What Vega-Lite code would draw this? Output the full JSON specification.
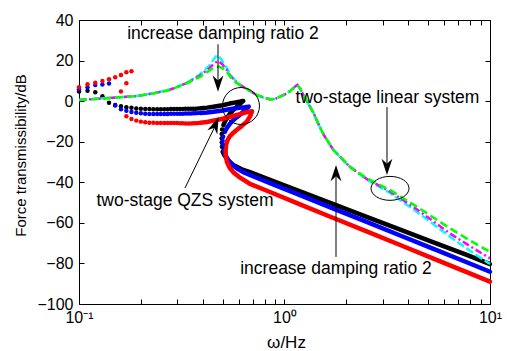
{
  "$schema": "https://vega.github.io/schema/vega-lite/v6.json",
  "width": 411,
  "height": 284,
  "autosize": {"type": "none"},
  "padding": {"left": 79, "top": 20, "right": 17, "bottom": 47},
  "background": "#ffffff",
  "config": {
    "view": {"stroke": "#000000", "strokeWidth": 1},
    "font": "Liberation Sans",
    "axis": {"labelColor": "#000000", "tickColor": "#000000", "titleColor": "#000000", "titleFontWeight": "normal", "labelFont": "Liberation Sans", "titleFont": "Liberation Sans", "grid": false, "domain": false}
  },
  "datasets": {
    "qzsDot": [
      {"f": 0.10, "db": 4.7, "s": "k"}, {"f": 0.11, "db": 5.1, "s": "k"}, {"f": 0.12, "db": 4.4, "s": "k"}, {"f": 0.13, "db": 2.4, "s": "k"}, {"f": 0.14, "db": -0.8, "s": "k"}, {"f": 0.15, "db": -1.9, "s": "k"}, {"f": 0.16, "db": -2.5, "s": "k"}, {"f": 0.17, "db": -3.0, "s": "k"}, {"f": 0.18, "db": -3.3, "s": "k"}, {"f": 0.19, "db": -3.6, "s": "k"}, {"f": 0.20, "db": -3.8, "s": "k"}, {"f": 0.21, "db": -3.9, "s": "k"}, {"f": 0.22, "db": -3.9, "s": "k"}, {"f": 0.23, "db": -4.0, "s": "k"}, {"f": 0.24, "db": -4.0, "s": "k"}, {"f": 0.25, "db": -4.0, "s": "k"}, {"f": 0.26, "db": -4.0, "s": "k"}, {"f": 0.27, "db": -4.0, "s": "k"}, {"f": 0.28, "db": -3.9, "s": "k"}, {"f": 0.29, "db": -3.9, "s": "k"},
      {"f": 0.30, "db": -3.9, "s": "k"}, {"f": 0.31, "db": -3.9, "s": "k"}, {"f": 0.32, "db": -3.9, "s": "k"}, {"f": 0.33, "db": -3.8, "s": "k"}, {"f": 0.34, "db": -3.8, "s": "k"}, {"f": 0.35, "db": -3.8, "s": "k"}, {"f": 0.36, "db": -3.7, "s": "k"}, {"f": 0.37, "db": -3.7, "s": "k"}, {"f": 0.38, "db": -3.6, "s": "k"},
      {"f": 0.497, "db": -14.0, "s": "k"}, {"f": 0.495, "db": -16.2, "s": "k"}, {"f": 0.495, "db": -18.3, "s": "k"}, {"f": 0.495, "db": -20.4, "s": "k"}, {"f": 0.496, "db": -22.5, "s": "k"},
      {"f": 0.10, "db": 5.9, "s": "b"}, {"f": 0.11, "db": 6.8, "s": "b"}, {"f": 0.12, "db": 7.9, "s": "b"}, {"f": 0.13, "db": 8.2, "s": "b"}, {"f": 0.14, "db": 8.7, "s": "b"}, {"f": 0.15, "db": -2.2, "s": "b"}, {"f": 0.16, "db": -4.0, "s": "b"}, {"f": 0.17, "db": -4.7, "s": "b"}, {"f": 0.18, "db": -5.3, "s": "b"}, {"f": 0.19, "db": -5.7, "s": "b"}, {"f": 0.20, "db": -6.0, "s": "b"}, {"f": 0.21, "db": -6.2, "s": "b"}, {"f": 0.22, "db": -6.3, "s": "b"}, {"f": 0.23, "db": -6.3, "s": "b"}, {"f": 0.24, "db": -6.3, "s": "b"}, {"f": 0.25, "db": -6.3, "s": "b"}, {"f": 0.26, "db": -6.3, "s": "b"}, {"f": 0.27, "db": -6.3, "s": "b"}, {"f": 0.28, "db": -6.2, "s": "b"}, {"f": 0.29, "db": -6.2, "s": "b"},
      {"f": 0.30, "db": -6.2, "s": "b"}, {"f": 0.31, "db": -6.2, "s": "b"}, {"f": 0.32, "db": -6.2, "s": "b"}, {"f": 0.33, "db": -6.1, "s": "b"}, {"f": 0.34, "db": -6.1, "s": "b"}, {"f": 0.35, "db": -6.1, "s": "b"}, {"f": 0.36, "db": -6.0, "s": "b"}, {"f": 0.37, "db": -6.0, "s": "b"}, {"f": 0.38, "db": -5.9, "s": "b"},
      {"f": 0.503, "db": -17.5, "s": "b"}, {"f": 0.500, "db": -19.5, "s": "b"}, {"f": 0.501, "db": -21.5, "s": "b"},
      {"f": 0.10, "db": 6.8, "s": "r"}, {"f": 0.11, "db": 8.3, "s": "r"}, {"f": 0.12, "db": 9.1, "s": "r"}, {"f": 0.13, "db": 9.9, "s": "r"}, {"f": 0.14, "db": 10.8, "s": "r"}, {"f": 0.15, "db": 11.8, "s": "r"}, {"f": 0.16, "db": 12.9, "s": "r"}, {"f": 0.17, "db": 14.2, "s": "r"}, {"f": 0.18, "db": 14.7, "s": "r"},
      {"f": 0.16, "db": 4.7, "s": "r"}, {"f": 0.17, "db": 8.8, "s": "r"},
      {"f": 0.17, "db": -7.5, "s": "r"}, {"f": 0.18, "db": -8.8, "s": "r"}, {"f": 0.19, "db": -9.6, "s": "r"}, {"f": 0.20, "db": -10.1, "s": "r"}, {"f": 0.21, "db": -10.4, "s": "r"}, {"f": 0.22, "db": -10.6, "s": "r"}, {"f": 0.23, "db": -10.7, "s": "r"}, {"f": 0.24, "db": -10.8, "s": "r"}, {"f": 0.25, "db": -10.8, "s": "r"}, {"f": 0.26, "db": -10.8, "s": "r"}, {"f": 0.27, "db": -10.8, "s": "r"}, {"f": 0.28, "db": -10.8, "s": "r"}, {"f": 0.29, "db": -10.8, "s": "r"},
      {"f": 0.30, "db": -10.8, "s": "r"}, {"f": 0.31, "db": -10.9, "s": "r"}, {"f": 0.32, "db": -10.9, "s": "r"}, {"f": 0.33, "db": -11.0, "s": "r"}, {"f": 0.34, "db": -11.0, "s": "r"}, {"f": 0.35, "db": -11.0, "s": "r"}, {"f": 0.36, "db": -10.9, "s": "r"}, {"f": 0.37, "db": -10.9, "s": "r"}, {"f": 0.38, "db": -10.8, "s": "r"}
    ],
    "qzsLine": [
      {"f": 0.39, "db": -3.5, "s": "k", "seg": "k1", "i": 1}, {"f": 0.42, "db": -3.2, "s": "k", "seg": "k1", "i": 2}, {"f": 0.45, "db": -2.8, "s": "k", "seg": "k1", "i": 4}, {"f": 0.50, "db": -2.0, "s": "k", "seg": "k1", "i": 5}, {"f": 0.54, "db": -1.2, "s": "k", "seg": "k1", "i": 6}, {"f": 0.58, "db": -0.6, "s": "k", "seg": "k1", "i": 7}, {"f": 0.61, "db": -0.2, "s": "k", "seg": "k1", "i": 8}, {"f": 0.63, "db": 0.1, "s": "k", "seg": "k1", "i": 9}, {"f": 0.60, "db": -1.8, "s": "k", "seg": "k1", "i": 10}, {"f": 0.563, "db": -4.4, "s": "k", "seg": "k1", "i": 11}, {"f": 0.54, "db": -6.5, "s": "k", "seg": "k1", "i": 12}, {"f": 0.523, "db": -8.5, "s": "k", "seg": "k1", "i": 13}, {"f": 0.512, "db": -10.2, "s": "k", "seg": "k1", "i": 14}, {"f": 0.504, "db": -11.8, "s": "k", "seg": "k1", "i": 15},
      {"f": 0.50, "db": -24.9, "s": "k", "seg": "k2", "i": 1}, {"f": 0.51, "db": -26.6, "s": "k", "seg": "k2", "i": 2}, {"f": 0.523, "db": -28.2, "s": "k", "seg": "k2", "i": 3}, {"f": 0.54, "db": -29.9, "s": "k", "seg": "k2", "i": 4}, {"f": 0.563, "db": -31.5, "s": "k", "seg": "k2", "i": 5}, {"f": 0.62, "db": -33.6, "s": "k", "seg": "k2", "i": 6}, {"f": 0.679, "db": -35.0, "s": "k", "seg": "k2", "i": 7}, {"f": 0.85, "db": -38.8, "s": "k", "seg": "k2", "i": 8}, {"f": 1.19, "db": -44.5, "s": "k", "seg": "k2", "i": 9}, {"f": 1.73, "db": -50.8, "s": "k", "seg": "k2", "i": 10}, {"f": 2.51, "db": -57.0, "s": "k", "seg": "k2", "i": 11}, {"f": 3.63, "db": -63.2, "s": "k", "seg": "k2", "i": 12}, {"f": 5.27, "db": -69.5, "s": "k", "seg": "k2", "i": 13}, {"f": 7.65, "db": -75.7, "s": "k", "seg": "k2", "i": 14}, {"f": 10, "db": -80.3, "s": "k", "seg": "k2", "i": 15},
      {"f": 0.39, "db": -5.9, "s": "b", "seg": "b1", "i": 1}, {"f": 0.42, "db": -5.6, "s": "b", "seg": "b1", "i": 2}, {"f": 0.45, "db": -5.2, "s": "b", "seg": "b1", "i": 4}, {"f": 0.50, "db": -4.6, "s": "b", "seg": "b1", "i": 5}, {"f": 0.54, "db": -4.0, "s": "b", "seg": "b1", "i": 6}, {"f": 0.60, "db": -3.3, "s": "b", "seg": "b1", "i": 7}, {"f": 0.64, "db": -3.0, "s": "b", "seg": "b1", "i": 8}, {"f": 0.67, "db": -2.7, "s": "b", "seg": "b1", "i": 9}, {"f": 0.64, "db": -4.5, "s": "b", "seg": "b1", "i": 10}, {"f": 0.606, "db": -6.8, "s": "b", "seg": "b1", "i": 11}, {"f": 0.575, "db": -8.6, "s": "b", "seg": "b1", "i": 12}, {"f": 0.553, "db": -10.1, "s": "b", "seg": "b1", "i": 13}, {"f": 0.535, "db": -12.0, "s": "b", "seg": "b1", "i": 14}, {"f": 0.523, "db": -13.4, "s": "b", "seg": "b1", "i": 15}, {"f": 0.512, "db": -15.2, "s": "b", "seg": "b1", "i": 16},
      {"f": 0.505, "db": -23.5, "s": "b", "seg": "b2", "i": 1}, {"f": 0.515, "db": -26.5, "s": "b", "seg": "b2", "i": 2}, {"f": 0.532, "db": -29.0, "s": "b", "seg": "b2", "i": 3}, {"f": 0.555, "db": -31.2, "s": "b", "seg": "b2", "i": 4}, {"f": 0.585, "db": -33.1, "s": "b", "seg": "b2", "i": 5}, {"f": 0.63, "db": -35.0, "s": "b", "seg": "b2", "i": 6}, {"f": 0.679, "db": -36.4, "s": "b", "seg": "b2", "i": 7}, {"f": 0.85, "db": -40.4, "s": "b", "seg": "b2", "i": 8}, {"f": 1.19, "db": -46.3, "s": "b", "seg": "b2", "i": 9}, {"f": 1.73, "db": -53.0, "s": "b", "seg": "b2", "i": 10}, {"f": 2.51, "db": -59.5, "s": "b", "seg": "b2", "i": 11}, {"f": 3.63, "db": -66.1, "s": "b", "seg": "b2", "i": 12}, {"f": 5.27, "db": -72.7, "s": "b", "seg": "b2", "i": 13}, {"f": 7.65, "db": -79.3, "s": "b", "seg": "b2", "i": 14}, {"f": 10, "db": -84.1, "s": "b", "seg": "b2", "i": 15},
      {"f": 0.39, "db": -10.7, "s": "r", "seg": "r1", "i": 1}, {"f": 0.42, "db": -10.3, "s": "r", "seg": "r1", "i": 2}, {"f": 0.45, "db": -9.6, "s": "r", "seg": "r1", "i": 4}, {"f": 0.50, "db": -8.7, "s": "r", "seg": "r1", "i": 5}, {"f": 0.54, "db": -7.8, "s": "r", "seg": "r1", "i": 6}, {"f": 0.60, "db": -6.5, "s": "r", "seg": "r1", "i": 7}, {"f": 0.65, "db": -5.5, "s": "r", "seg": "r1", "i": 8}, {"f": 0.695, "db": -5.0, "s": "r", "seg": "r1", "i": 9}, {"f": 0.68, "db": -7.5, "s": "r", "seg": "r1", "i": 10}, {"f": 0.655, "db": -10.1, "s": "r", "seg": "r1", "i": 11}, {"f": 0.62, "db": -12.2, "s": "r", "seg": "r1", "i": 12}, {"f": 0.585, "db": -14.2, "s": "r", "seg": "r1", "i": 13}, {"f": 0.56, "db": -15.8, "s": "r", "seg": "r1", "i": 14}, {"f": 0.54, "db": -17.5, "s": "r", "seg": "r1", "i": 15}, {"f": 0.527, "db": -19.5, "s": "r", "seg": "r1", "i": 16}, {"f": 0.52, "db": -21.5, "s": "r", "seg": "r1", "i": 17}, {"f": 0.517, "db": -24.0, "s": "r", "seg": "r1", "i": 18}, {"f": 0.518, "db": -27.0, "s": "r", "seg": "r1", "i": 19}, {"f": 0.525, "db": -30.0, "s": "r", "seg": "r1", "i": 20}, {"f": 0.54, "db": -32.7, "s": "r", "seg": "r1", "i": 21}, {"f": 0.563, "db": -35.0, "s": "r", "seg": "r1", "i": 22}, {"f": 0.60, "db": -37.3, "s": "r", "seg": "r1", "i": 23}, {"f": 0.679, "db": -40.8, "s": "r", "seg": "r1", "i": 24}, {"f": 0.85, "db": -44.8, "s": "r", "seg": "r1", "i": 25}, {"f": 1.19, "db": -50.9, "s": "r", "seg": "r1", "i": 26}, {"f": 1.73, "db": -57.6, "s": "r", "seg": "r1", "i": 27}, {"f": 2.51, "db": -64.2, "s": "r", "seg": "r1", "i": 28}, {"f": 3.63, "db": -70.8, "s": "r", "seg": "r1", "i": 29}, {"f": 5.27, "db": -77.5, "s": "r", "seg": "r1", "i": 30}, {"f": 7.65, "db": -84.2, "s": "r", "seg": "r1", "i": 31}, {"f": 10, "db": -89.0, "s": "r", "seg": "r1", "i": 32}
    ],
    "lin": [
      {"f": 0.10, "db": 0.6, "c": "g"}, {"f": 0.14, "db": 1.5, "c": "g"}, {"f": 0.19, "db": 2.5, "c": "g"}, {"f": 0.23, "db": 3.8, "c": "g"}, {"f": 0.277, "db": 5.5, "c": "g"}, {"f": 0.334, "db": 8.8, "c": "g"}, {"f": 0.388, "db": 12.0, "c": "g"}, {"f": 0.434, "db": 15.3, "c": "g"}, {"f": 0.46, "db": 16.7, "c": "g"}, {"f": 0.48, "db": 17.0, "c": "g"}, {"f": 0.50, "db": 16.2, "c": "g"}, {"f": 0.523, "db": 14.5, "c": "g"}, {"f": 0.545, "db": 12.0, "c": "g"}, {"f": 0.585, "db": 9.0, "c": "g"}, {"f": 0.62, "db": 7.3, "c": "g"}, {"f": 0.655, "db": 6.0, "c": "g"}, {"f": 0.733, "db": 3.0, "c": "g"}, {"f": 0.79, "db": 1.8, "c": "g"}, {"f": 0.85, "db": 0.9, "c": "g"}, {"f": 0.90, "db": 1.1, "c": "g"}, {"f": 0.95, "db": 2.2, "c": "g"}, {"f": 1.0, "db": 3.2, "c": "g"}, {"f": 1.06, "db": 4.8, "c": "g"}, {"f": 1.12, "db": 7.0, "c": "g"}, {"f": 1.155, "db": 8.0, "c": "g"}, {"f": 1.19, "db": 6.3, "c": "g"}, {"f": 1.235, "db": 3.0, "c": "g"}, {"f": 1.30, "db": -1.0, "c": "g"}, {"f": 1.38, "db": -5.5, "c": "g"}, {"f": 1.45, "db": -10.5, "c": "g"}, {"f": 1.55, "db": -16.5, "c": "g"}, {"f": 1.73, "db": -24.0, "c": "g"}, {"f": 2.08, "db": -32.3, "c": "g"}, {"f": 2.51, "db": -38.0, "c": "g"}, {"f": 3.26, "db": -43.8, "c": "g"}, {"f": 4.4, "db": -52.0, "c": "g"}, {"f": 6.38, "db": -62.7, "c": "g"}, {"f": 8.0, "db": -68.7, "c": "g"}, {"f": 10, "db": -74.3, "c": "g"},
      {"f": 0.10, "db": 0.6, "c": "m"}, {"f": 0.14, "db": 1.5, "c": "m"}, {"f": 0.19, "db": 2.5, "c": "m"}, {"f": 0.23, "db": 3.8, "c": "m"}, {"f": 0.277, "db": 5.6, "c": "m"}, {"f": 0.334, "db": 8.9, "c": "m"}, {"f": 0.388, "db": 12.6, "c": "m"}, {"f": 0.434, "db": 16.5, "c": "m"}, {"f": 0.455, "db": 18.6, "c": "m"}, {"f": 0.475, "db": 19.8, "c": "m"}, {"f": 0.50, "db": 18.0, "c": "m"}, {"f": 0.523, "db": 15.5, "c": "m"}, {"f": 0.545, "db": 12.5, "c": "m"}, {"f": 0.585, "db": 9.2, "c": "m"}, {"f": 0.62, "db": 7.4, "c": "m"}, {"f": 0.655, "db": 6.0, "c": "m"}, {"f": 0.733, "db": 3.0, "c": "m"}, {"f": 0.79, "db": 1.8, "c": "m"}, {"f": 0.85, "db": 0.9, "c": "m"}, {"f": 0.90, "db": 1.1, "c": "m"}, {"f": 0.95, "db": 2.2, "c": "m"}, {"f": 1.0, "db": 3.2, "c": "m"}, {"f": 1.06, "db": 4.8, "c": "m"}, {"f": 1.12, "db": 7.0, "c": "m"}, {"f": 1.155, "db": 8.0, "c": "m"}, {"f": 1.19, "db": 6.3, "c": "m"}, {"f": 1.235, "db": 3.0, "c": "m"}, {"f": 1.30, "db": -1.0, "c": "m"}, {"f": 1.38, "db": -5.5, "c": "m"}, {"f": 1.45, "db": -10.5, "c": "m"}, {"f": 1.55, "db": -16.5, "c": "m"}, {"f": 1.73, "db": -24.1, "c": "m"}, {"f": 2.08, "db": -32.4, "c": "m"}, {"f": 2.51, "db": -38.3, "c": "m"}, {"f": 3.26, "db": -44.5, "c": "m"}, {"f": 4.4, "db": -53.3, "c": "m"}, {"f": 6.38, "db": -65.2, "c": "m"}, {"f": 8.0, "db": -71.5, "c": "m"}, {"f": 10, "db": -77.5, "c": "m"},
      {"f": 0.10, "db": 0.6, "c": "c"}, {"f": 0.14, "db": 1.5, "c": "c"}, {"f": 0.19, "db": 2.5, "c": "c"}, {"f": 0.23, "db": 3.9, "c": "c"}, {"f": 0.277, "db": 5.7, "c": "c"}, {"f": 0.334, "db": 9.0, "c": "c"}, {"f": 0.388, "db": 13.2, "c": "c"}, {"f": 0.434, "db": 17.8, "c": "c"}, {"f": 0.455, "db": 21.0, "c": "c"}, {"f": 0.47, "db": 22.7, "c": "c"}, {"f": 0.49, "db": 21.0, "c": "c"}, {"f": 0.51, "db": 18.0, "c": "c"}, {"f": 0.523, "db": 16.5, "c": "c"}, {"f": 0.545, "db": 13.0, "c": "c"}, {"f": 0.585, "db": 9.4, "c": "c"}, {"f": 0.62, "db": 7.5, "c": "c"}, {"f": 0.655, "db": 6.0, "c": "c"}, {"f": 0.733, "db": 3.0, "c": "c"}, {"f": 0.79, "db": 1.8, "c": "c"}, {"f": 0.85, "db": 0.9, "c": "c"}, {"f": 0.90, "db": 1.1, "c": "c"}, {"f": 0.95, "db": 2.2, "c": "c"}, {"f": 1.0, "db": 3.2, "c": "c"}, {"f": 1.06, "db": 4.8, "c": "c"}, {"f": 1.12, "db": 7.0, "c": "c"}, {"f": 1.155, "db": 8.0, "c": "c"}, {"f": 1.19, "db": 6.3, "c": "c"}, {"f": 1.235, "db": 3.0, "c": "c"}, {"f": 1.30, "db": -1.0, "c": "c"}, {"f": 1.38, "db": -5.5, "c": "c"}, {"f": 1.45, "db": -10.5, "c": "c"}, {"f": 1.55, "db": -16.5, "c": "c"}, {"f": 1.73, "db": -24.2, "c": "c"}, {"f": 2.08, "db": -32.5, "c": "c"}, {"f": 2.51, "db": -38.6, "c": "c"}, {"f": 3.26, "db": -45.3, "c": "c"}, {"f": 4.4, "db": -54.5, "c": "c"}, {"f": 6.38, "db": -66.8, "c": "c"}, {"f": 8.0, "db": -73.8, "c": "c"}, {"f": 10, "db": -80.3, "c": "c"}
    ],
    "ann": [
      {"f": 0.502, "db": 30.6, "t": "increase damping ratio 2"},
      {"f": 3.17, "db": -0.8, "t": "two-stage linear system"},
      {"f": 0.328, "db": -51.7, "t": "two-stage QZS system"},
      {"f": 1.781, "db": -85.2, "t": "increase damping ratio 2"}
    ],
    "arr": [
      {"f": 0.4747, "db": 28.0, "f2": 0.4747, "db2": 6.0},
      {"f": 3.153, "db": -2.9, "f2": 3.153, "db2": -35.0},
      {"f": 1.781, "db": -76.8, "f2": 1.781, "db2": -33.0},
      {"f": 0.328, "db": -42.8, "f2": 0.474, "db2": -9.5}
    ],
    "head": [
      {"f": 0.4747, "db": 4.6, "a": 0},
      {"f": 3.153, "db": -36.4, "a": 0},
      {"f": 1.781, "db": -31.5, "a": 180},
      {"f": 0.478, "db": -8.0, "a": 203}
    ],
    "ell": [
      {"f": 3.262, "db": -43.0}
    ],
    "circ": [
      {"f": 0.614, "db": -2.4}
    ]
  },
  "resolve": {"axis": {"x": "independent", "y": "independent"}},
  "layer": [
    {
      "data": {"name": "qzsLine"},
      "mark": {"type": "line", "strokeWidth": 4.5, "strokeCap": "round", "strokeJoin": "round"},
      "encoding": {
        "x": {"field": "f", "type": "quantitative", "scale": {"type": "log", "domain": [0.1, 10], "nice": false},
          "axis": {"orient": "bottom", "values": [0.1, 0.2, 0.3, 0.4, 0.5, 0.6, 0.7, 0.8, 0.9, 1, 2, 3, 4, 5, 6, 7, 8, 9, 10],
            "labelExpr": "datum.value == 0.1 ? '10⁻¹' : datum.value == 1 ? '10⁰' : datum.value == 10 ? '10¹' : ''",
            "tickSize": -5, "labelPadding": 10, "labelFontSize": 16, "labelFlush": false, "labelOverlap": false,
            "title": "ω/Hz", "titleFontSize": 17, "titleX": 207, "titleY": 43, "titleBaseline": "alphabetic", "titleAlign": "center"}},
        "y": {"field": "db", "type": "quantitative", "scale": {"domain": [-100, 40], "nice": false, "zero": false},
          "axis": {"orient": "left", "values": [-100, -80, -60, -40, -20, 0, 20, 40],
            "tickSize": -5, "labelPadding": 11, "labelFontSize": 16,
            "title": "Force transmissibility/dB", "titleFontSize": 15, "titleAngle": -90, "titleX": -59, "titleY": 135, "titleBaseline": "middle", "titleAlign": "center"}},
        "color": {"field": "s", "type": "nominal", "scale": {"domain": ["k", "b", "r"], "range": ["#000000", "#0000ff", "#ff0000"]}, "legend": null},
        "detail": {"field": "seg"},
        "order": {"field": "i", "type": "quantitative"}
      }
    },
    {
      "data": {"name": "qzsDot"},
      "mark": {"type": "point", "filled": true, "size": 20, "opacity": 1},
      "encoding": {
        "x": {"field": "f", "type": "quantitative", "axis": null},
        "y": {"field": "db", "type": "quantitative", "axis": null},
        "color": {"field": "s", "type": "nominal", "legend": null}
      }
    },
    {
      "data": {"name": "lin"},
      "transform": [{"filter": "datum.c == 'c'"}],
      "mark": {"type": "line", "strokeWidth": 2.5, "color": "#00ffff", "strokeDash": [8, 3]},
      "encoding": {
        "x": {"field": "f", "type": "quantitative", "axis": null},
        "y": {"field": "db", "type": "quantitative", "axis": null}
      }
    },
    {
      "data": {"name": "lin"},
      "transform": [{"filter": "datum.c == 'm'"}],
      "mark": {"type": "line", "strokeWidth": 2.5, "color": "#ff00ff", "strokeDash": [7, 3, 2, 3]},
      "encoding": {
        "x": {"field": "f", "type": "quantitative", "axis": null},
        "y": {"field": "db", "type": "quantitative", "axis": null}
      }
    },
    {
      "data": {"name": "lin"},
      "transform": [{"filter": "datum.c == 'g'"}],
      "mark": {"type": "line", "strokeWidth": 2.6, "color": "#00ff00", "strokeDash": [8, 4]},
      "encoding": {
        "x": {"field": "f", "type": "quantitative", "axis": null},
        "y": {"field": "db", "type": "quantitative", "axis": null}
      }
    },
    {
      "data": {"name": "arr"},
      "mark": {"type": "rule", "strokeWidth": 1, "color": "#000000"},
      "encoding": {
        "x": {"field": "f", "type": "quantitative", "axis": null},
        "y": {"field": "db", "type": "quantitative", "axis": null},
        "x2": {"field": "f2"},
        "y2": {"field": "db2"}
      }
    },
    {
      "data": {"name": "head"},
      "mark": {"type": "point", "shape": "M0,0 L-0.6,-1.8 L0,-1.25 L0.6,-1.8 Z", "filled": true, "color": "#000000", "size": 324, "opacity": 1},
      "encoding": {
        "x": {"field": "f", "type": "quantitative", "axis": null},
        "y": {"field": "db", "type": "quantitative", "axis": null},
        "angle": {"field": "a", "type": "quantitative", "scale": null}
      }
    },
    {
      "data": {"name": "ell"},
      "mark": {"type": "point", "shape": "M-1,0 A1,0.63 0 1,1 1,0 A1,0.63 0 1,1 -1,0 Z", "filled": false, "stroke": "#000000", "strokeWidth": 1, "size": 1444, "opacity": 1},
      "encoding": {
        "x": {"field": "f", "type": "quantitative", "axis": null},
        "y": {"field": "db", "type": "quantitative", "axis": null}
      }
    },
    {
      "data": {"name": "circ"},
      "mark": {"type": "point", "shape": "circle", "filled": false, "stroke": "#000000", "strokeWidth": 1, "size": 1369, "opacity": 1},
      "encoding": {
        "x": {"field": "f", "type": "quantitative", "scale": {"type": "log", "domain": [0.1, 10], "nice": false},
          "axis": {"orient": "top", "values": [0.1, 0.2, 0.3, 0.4, 0.5, 0.6, 0.7, 0.8, 0.9, 1, 2, 3, 4, 5, 6, 7, 8, 9, 10], "labels": false, "tickSize": -5, "title": null}},
        "y": {"field": "db", "type": "quantitative", "scale": {"domain": [-100, 40], "nice": false, "zero": false},
          "axis": {"orient": "right", "values": [-100, -80, -60, -40, -20, 0, 20, 40], "labels": false, "tickSize": -5, "title": null}}
      }
    },
    {
      "data": {"name": "ann"},
      "mark": {"type": "text", "font": "Liberation Sans", "fontSize": 17.5, "align": "center", "baseline": "alphabetic", "color": "#000000"},
      "encoding": {
        "x": {"field": "f", "type": "quantitative", "axis": null},
        "y": {"field": "db", "type": "quantitative", "axis": null},
        "text": {"field": "t"}
      }
    }
  ]
}
